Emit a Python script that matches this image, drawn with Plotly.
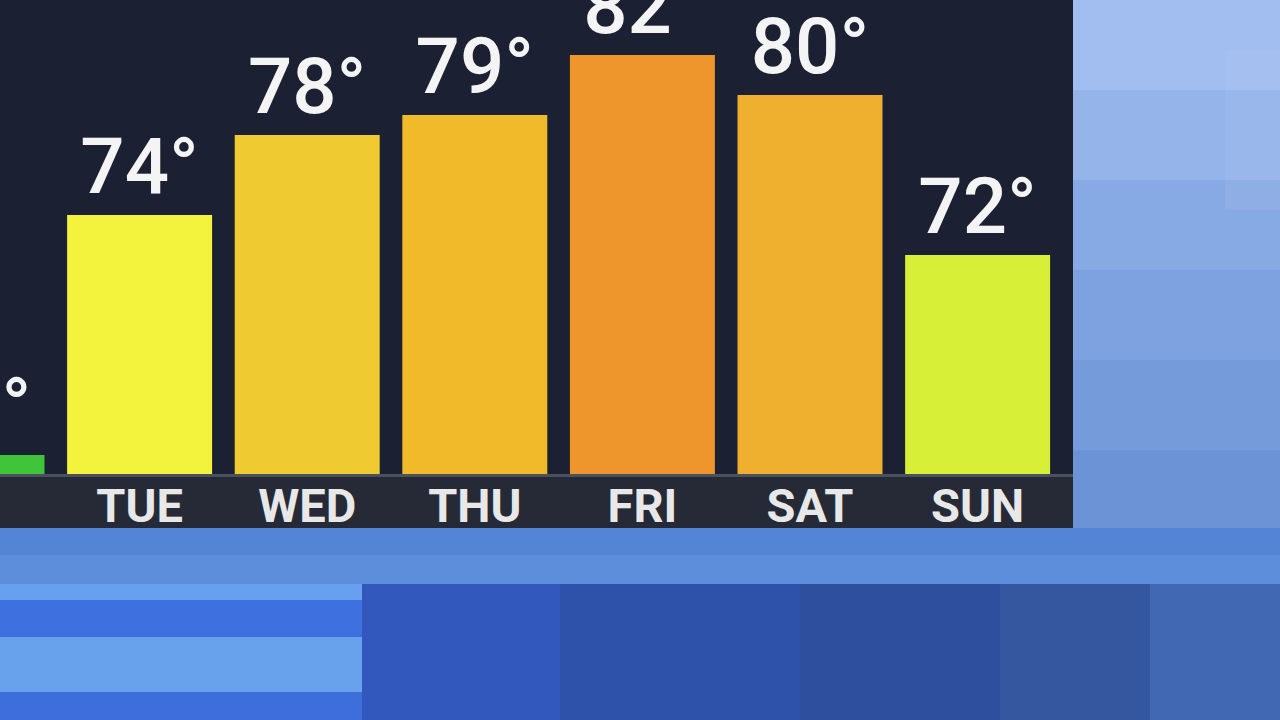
import plotly.graph_objects as go

days = ["MON", "TUE", "WED", "THU", "FRI", "SAT", "SUN"]
temps = [62, 74, 78, 79, 82, 80, 72]
bar_colors = ["#3fc43a", "#f3f23d", "#efca30", "#f0ba2b", "#ee952b", "#f0b02f", "#d7ef36"]
labels = [f"{t}°" for t in temps]

W, H = 1280, 720
PANEL_R = 1073
BASE_Y = 474

fig = go.Figure()
fig.add_trace(go.Bar(
    x=days, y=temps,
    marker=dict(color=bar_colors, line=dict(width=0)),
    text=labels, textposition="outside", cliponaxis=True,
    constraintext="none",
    textfont=dict(family="Roboto", size=78, color="#f4f4f4", weight=500),
    hoverinfo="skip",
))

def rect(x0, y0, x1, y1, color, layer="below"):
    return dict(type="rect", xref="paper", yref="paper",
                x0=x0 / W, x1=x1 / W, y0=1 - y1 / H, y1=1 - y0 / H,
                fillcolor=color, line=dict(width=0), layer=layer)

shapes = []
# sky on the right
sky = [(0, 90, "#a2bef0"), (90, 180, "#95b4ea"), (180, 270, "#88aae4"),
       (270, 360, "#7ea2df"), (360, 450, "#759bdb"), (450, 530, "#6c93d6")]
for y0, y1, c in sky:
    shapes.append(rect(PANEL_R, y0, W, y1, c))
shapes.append(rect(1225, 50, W, 210, "rgba(200,215,245,0.10)"))
# band under the panel
shapes.append(rect(0, 528, W, 555, "#5384d6"))
shapes.append(rect(0, 555, W, 584, "#5d8edc"))
# lower left stripes
shapes.append(rect(0, 584, 362, 600, "#67a0ee"))
shapes.append(rect(0, 600, 362, 637, "#3f70e0"))
shapes.append(rect(0, 637, 362, 692, "#68a2ec"))
shapes.append(rect(0, 692, 362, 720, "#3e6edc"))
# lower right dark blue
lower = [(362, 560, "#3258bd"), (560, 800, "#2e52aa"), (800, 1000, "#2e4f9e"),
         (1000, 1150, "#34579f"), (1150, 1280, "#4169b3")]
for x0, x1, c in lower:
    shapes.append(rect(x0, 584, x1, 720, c))
# dark panel
shapes.append(rect(0, 0, PANEL_R, 528, "#1b2132"))
# label strip
shapes.append(rect(0, 477, PANEL_R, 528, "#252a36"))
shapes.append(rect(0, 474, PANEL_R, 477, "#4a505e"))

fig.update_layout(
    width=W, height=H,
    margin=dict(l=0, r=0, t=0, b=0),
    paper_bgcolor="#4f7fd0",
    plot_bgcolor="rgba(0,0,0,0)",
    showlegend=False,
    bargap=0.135,
    shapes=shapes,
    xaxis=dict(
        domain=[0, PANEL_R / W],
        range=[0.167, 0.167 + PANEL_R / 167.6],
        showgrid=False, zeroline=False, showline=False, ticks="",
        tickfont=dict(family="Roboto", size=47, color="#e8e8e8", weight="bold"),
        ticklabelstandoff=0,
    ),
    yaxis=dict(
        domain=[1 - BASE_Y / H, 1],
        range=[61.05, 84.75],
        showgrid=False, zeroline=False, showline=False,
        showticklabels=False, ticks="",
    ),
)

fig.write_html(
    "out.html",
    config={"displayModeBar": False},
    post_script="document.body.style.margin='0';document.body.style.overflow='hidden';",
)
